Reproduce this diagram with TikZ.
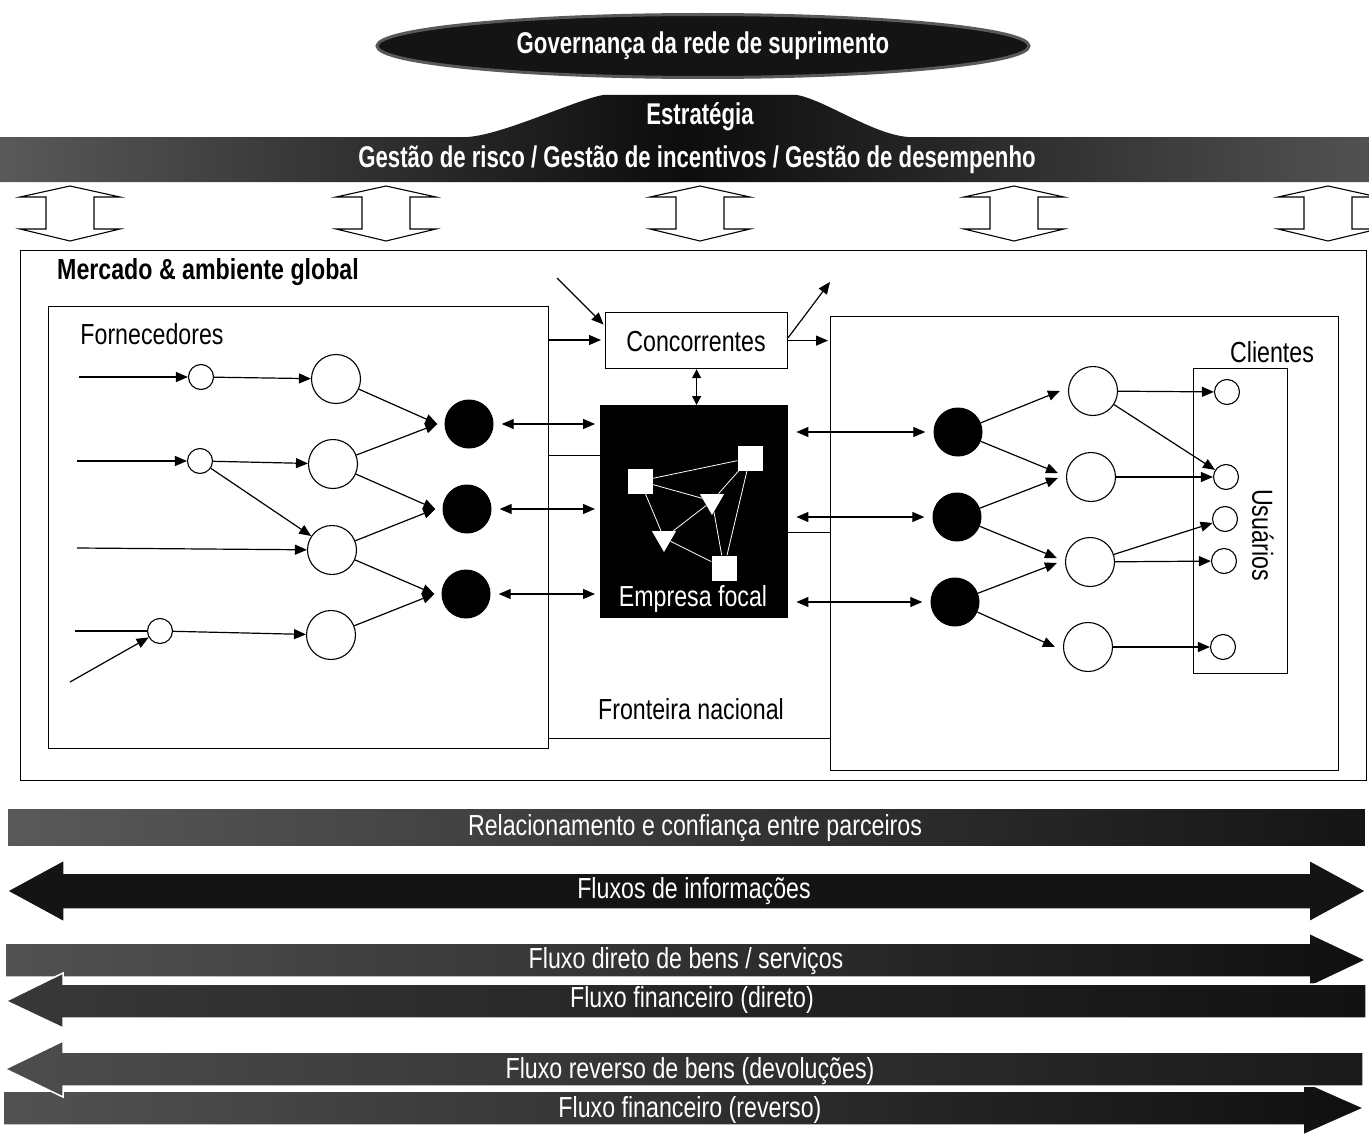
\documentclass[tikz,border=0pt]{standalone}
\usepackage{fontspec}
\setmainfont{Liberation Sans}
\newfontfamily\cf[FakeStretch=0.8]{Liberation Sans}
\newfontfamily\cfh[FakeStretch=0.74]{Liberation Sans}
\usetikzlibrary{shapes.geometric,arrows.meta,calc}
\tikzset{
  net/.style={line width=1.2pt},
  arr/.style={net,-{Triangle[length=12pt,width=10pt]}},
  darr/.style={net,{Triangle[length=12pt,width=10pt]}-{Triangle[length=12pt,width=10pt]}},
  sdarr/.style={net,{Triangle[length=9pt,width=9pt]}-{Triangle[length=9pt,width=9pt]}},
  sm/.style={circle,draw,line width=1.1pt,minimum size=25pt,inner sep=0pt},
  md/.style={circle,draw,line width=1.1pt,minimum size=49pt,inner sep=0pt},
  bk/.style={circle,fill=black,minimum size=49pt,inner sep=0pt},
  boxst/.style={draw,line width=1.4pt,inner sep=0pt,anchor=north west},
  txt/.style={font=\cf\fontsize{29}{32}\selectfont,inner sep=0pt},
  wtxt/.style={txt,text=white},
  htxt/.style={font=\cfh\bfseries\fontsize{30}{33}\selectfont,text=white,inner sep=0pt},
  sq/.style={rectangle,fill=white,minimum size=25pt,inner sep=0pt},
  tri/.style={regular polygon,regular polygon sides=3,shape border rotate=180,fill=white,minimum size=28pt,inner sep=0pt},
  wl/.style={white,line width=0.8pt},
  band/.style={draw=white,line width=1.5pt},
  openarr/.style={draw=black,line width=1.1pt,fill=white}
}
\begin{document}
\begin{tikzpicture}[x=1pt,y=-1pt]
\useasboundingbox (0,0) rectangle (1369,1148);
\fill[white] (0,0) rectangle (1369,1148);

% governance ellipse
\node[ellipse, minimum width=652pt, minimum height=63pt, inner sep=0pt, fill=black!92, draw=black!65, line width=3pt] (gov) at (703,46) {};
\node[htxt] (govt) at (gov) {Governança da rede de suprimento};

% top band with strategy
\path[left color=black!65, right color=black!68, middle color=black!95]
  (0,137) -- (468,137) .. controls (505,134) and (575,100) .. (603,95) -- (797,95)
  .. controls (825,100) and (872,134) .. (908,137) -- (1369,137) -- (1369,182) -- (0,182) -- cycle;
\node[htxt] (estr) at (700,117) {Estratégia};
\node[htxt] (gest) at (697,160) {Gestão de risco / Gestão de incentivos / Gestão de desempenho};

% open double arrows
\foreach \c in {70,386,700,1014,1328}{
  \draw[openarr] (\c,186) -- (\c+50,197) -- (\c+24,197) -- (\c+24,229) -- (\c+50,229) -- (\c,241)
    -- (\c-50,229) -- (\c-24,229) -- (\c-24,197) -- (\c-50,197) -- cycle;
}

% boxes
\node[boxst, minimum width=1346pt, minimum height=530pt] (mkt) at (20,250) {};
\node[font=\cf\bfseries\fontsize{29}{32}\selectfont, anchor=west, inner sep=0pt] (mktt) at (57,272) {Mercado \& ambiente global};
\node[boxst, minimum width=500pt, minimum height=442pt] (forn) at (48,306) {};
\node[txt] (fornt) at (152,334) {Fornecedores};
\node[boxst, minimum width=508pt, minimum height=454pt] (cli) at (830,316) {};
\node[txt] (clit) at (1272,352) {Clientes};
\node[boxst, minimum width=94pt, minimum height=305pt] (usr) at (1193,368) {};
\node[txt, rotate=-90] (usrt) at (1263,535) {Usuários};
\node[boxst, minimum width=182pt, minimum height=56pt, line width=1.2pt] (conc) at (605,312) {};
\node[txt] (conct) at (696,342) {Concorrentes};
\node[boxst, minimum width=187pt, minimum height=212pt, fill=black] (emp) at (600,405) {};
\node[wtxt] (empt) at (693,599) {Empresa focal};

% focal company inner network
\node[sq] (q1) at (640,481) {};
\node[sq] (q2) at (750,458) {};
\node[sq] (q3) at (724,568) {};
\node[tri] (t1) at (712,501) {};
\node[tri] (t2) at (664,538) {};
\draw[wl] (q1)--(q2) (q1)--(t1) (q1)--(t2) (q2)--(t1) (q2)--(q3) (t1)--(q3) (t1)--(t2) (t2)--(q3);

% left network
\node[sm] (s1) at (201,377) {};
\node[sm] (s2) at (200,461) {};
\node[sm] (s3) at (160,631) {};
\node[md] (m1) at (336,379) {};
\node[md] (m2) at (333,464) {};
\node[md] (m3) at (332,550) {};
\node[md] (m4) at (331,635) {};
\node[bk] (b1) at (469,424) {};
\node[bk] (b2) at (467,509) {};
\node[bk] (b3) at (466,594) {};

% right network
\node[bk] (B1) at (958,432) {};
\node[bk] (B2) at (957,517) {};
\node[bk] (B3) at (955,602) {};
\node[md] (M1) at (1093,391) {};
\node[md] (M2) at (1091,477) {};
\node[md] (M3) at (1090,562) {};
\node[md] (M4) at (1088,647) {};
\node[sm] (U1) at (1227,392) {};
\node[sm] (U2) at (1226,477) {};
\node[sm] (U3) at (1225,519) {};
\node[sm] (U4) at (1224,561) {};
\node[sm] (U5) at (1223,647) {};

% incoming supplier links
\coordinate (i1) at (79,377);
\coordinate (i2) at (77,461);
\coordinate (i3) at (77,548);
\coordinate (i4) at (75,631);
\coordinate (i5) at (70,682);
\draw[arr] (i1) -- (s1);
\draw[arr] (i2) -- (s2);
\draw[arr] (i3) -- (m3);
\draw[net] (i4) -- (s3);
\draw[arr] (i5) -- (s3);
\draw[arr] (s1) -- (m1);
\draw[arr] (s2) -- (m2);
\draw[arr] (s2) -- (m3);
\draw[arr] (s3) -- (m4);
\draw[arr] (m1) -- ([xshift=-7pt]b1.west);
\draw[arr] (m2) -- ([xshift=-7pt]b1.west);
\draw[arr] (m2) -- ([xshift=-7pt]b2.west);
\draw[arr] (m3) -- ([xshift=-7pt]b2.west);
\draw[arr] (m3) -- ([xshift=-7pt]b3.west);
\draw[arr] (m4) -- ([xshift=-7pt]b3.west);
\draw[darr, shorten <=8pt, shorten >=5pt] (b1) -- (b1 -| emp.west);
\draw[darr, shorten <=8pt, shorten >=5pt] (b2) -- (b2 -| emp.west);
\draw[darr, shorten <=8pt, shorten >=5pt] (b3) -- (b3 -| emp.west);

% right links
\draw[darr, shorten <=8pt, shorten >=8pt] (B1 -| emp.east) -- (B1);
\draw[darr, shorten <=8pt, shorten >=8pt] (B2 -| emp.east) -- (B2);
\draw[darr, shorten <=8pt, shorten >=8pt] (B3 -| emp.east) -- (B3);
\draw[arr] (B1) -- ([xshift=-8pt]M1.west);
\draw[arr] (B1) -- ([xshift=-8pt,yshift=4pt]M2.west);
\draw[arr] (B2) -- ([xshift=-8pt,yshift=-1pt]M2.west);
\draw[arr] (B2) -- ([xshift=-8pt,yshift=4pt]M3.west);
\draw[arr] (B3) -- ([xshift=-8pt,yshift=-1pt]M3.west);
\draw[arr] (B3) -- ([xshift=-8pt]M4.west);
\draw[arr] (M1) -- (U1);
\draw[arr] (M1) -- (U2);
\draw[arr] (M2) -- (U2);
\draw[arr] (M3) -- (U3);
\draw[arr] (M3) -- (U4);
\draw[arr] (M4) -- (U5);

% competitors links
\coordinate (c0) at (557,278);
\coordinate (c1) at (830,282);
\coordinate (fc) at ([yshift=-34pt]forn.north east);
\draw[arr, shorten >=2pt] (c0) -- ([yshift=-14pt]conc.north west);
\draw[arr, shorten >=4pt] (fc) -- (fc -| conc.west);
\draw[arr, shorten >=2pt] (conc.east) -- (conc.east -| cli.west);
\draw[arr] ([yshift=3pt]conc.east) -- (c1);
\draw[sdarr] (conc.south) -- (conc.south |- emp.north);

% boundary lines
\coordinate (fl) at ([yshift=72pt]forn.east);
\draw[net] (fl) -- (fl -| emp.west);
\coordinate (fr) at ([yshift=-21pt]emp.east);
\draw[net] (fr) -- (fr -| cli.west);
\coordinate (fb) at ([yshift=11pt]forn.south east);
\draw[net] (fb) -- (fb -| cli.west);
\node[txt] (front) at (691,709) {Fronteira nacional};

% bottom bands
\path[band, left color=black!65, right color=black!92] (7,808) rectangle (1366,847);
\node[wtxt] (rel) at (695,828) {Relacionamento e confiança entre parceiros};

\path[band, fill=black!92] (7,891) -- (64,860) -- (64,873) -- (1309,873) -- (1309,860) -- (1366,891)
  -- (1309,922) -- (1309,909) -- (64,909) -- (64,922) -- cycle;
\node[wtxt] (inf) at (694,891) {Fluxos de informações};

\path[band, left color=black!68, right color=black!94] (5,943) -- (1309,943) -- (1309,933) -- (1366,960)
  -- (1309,987) -- (1309,977) -- (5,977) -- cycle;
\path[band, left color=black!78, right color=black!93] (6,1001) -- (63,973) -- (63,984) -- (1366,984)
  -- (1366,1018) -- (63,1018) -- (63,1028) -- cycle;
\node[wtxt] (dir) at (686,961) {Fluxo direto de bens / serviços};
\node[wtxt] (fin) at (692,1000) {Fluxo financeiro (direto)};

\path[band, left color=black!68, right color=black!94] (3,1091) -- (1303,1091) -- (1303,1081) -- (1364,1108)
  -- (1303,1135) -- (1303,1125) -- (3,1125) -- cycle;
\path[band, left color=black!70, right color=black!90] (5,1069) -- (63,1041) -- (63,1052) -- (1363,1052)
  -- (1363,1086) -- (63,1086) -- (63,1097) -- cycle;
\node[wtxt] (rev) at (690,1071) {Fluxo reverso de bens (devoluções)};
\node[wtxt] (finr) at (690,1110) {Fluxo financeiro (reverso)};
\end{tikzpicture}
\end{document}
